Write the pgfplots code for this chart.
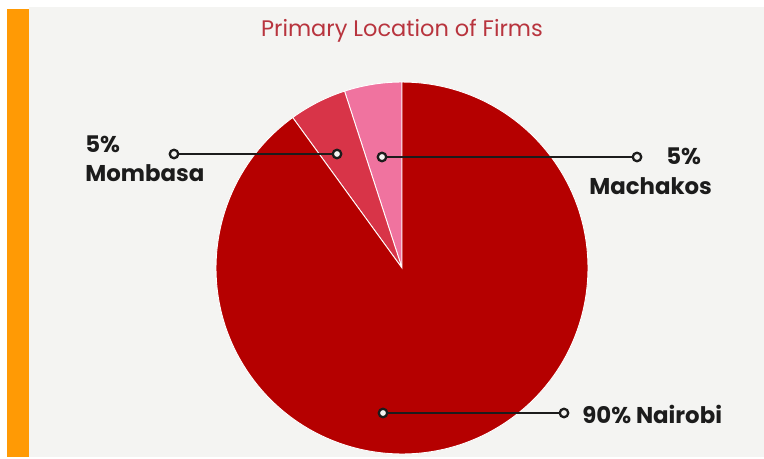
\documentclass[border=0pt]{standalone}
\usepackage{pgfplots}
\pgfplotsset{compat=1.18}
\usepackage{pgfplotstable}
\usepackage{fontspec}
\setmainfont{Poppins}
\definecolor{bgc}{HTML}{F4F4F2}
\definecolor{barc}{HTML}{FF9A05}
\definecolor{nairobi}{HTML}{B50000}
\definecolor{mombasa}{HTML}{D83448}
\definecolor{machakos}{HTML}{F0739F}
\definecolor{titlec}{HTML}{B8343E}
\definecolor{ink}{HTML}{1C1C1C}

% shares in percent, drawn counter-clockwise from the top
\pgfplotstableread{
share name
5  Machakos
5  Mombasa
90 Nairobi
}\pietable

\begin{document}
\begin{tikzpicture}
  \pgfplotstablegetelem{0}{share}\of\pietable \let\sA\pgfplotsretval
  \pgfplotstablegetelem{1}{share}\of\pietable \let\sB\pgfplotsretval
  \pgfplotstablegetelem{2}{share}\of\pietable \let\sC\pgfplotsretval
  \pgfmathsetmacro\aA{90+3.6*\sA}
  \pgfmathsetmacro\aB{\aA+3.6*\sB}
  \pgfmathsetmacro\aC{\aB+3.6*\sC}
  \def\R{3.72cm}
  \tikzset{dot/.style={ink,line width=1.3pt,fill=bgc},
           lab/.style={ink,font=\fontsize{13}{15}\selectfont\bfseries,anchor=base west,inner sep=0pt}}
  \begin{axis}[
      name=ax,
      x=0.02cm, y=0.02cm, scale only axis,
      xmin=0, xmax=764, ymin=0, ymax=459,
      hide axis, clip=false,
    ]
    \fill[white] (axis cs:0,0) rectangle (axis cs:764,459);
    \fill[bgc] (axis cs:29,2) rectangle (axis cs:764,452);
    \fill[barc] (axis cs:7,2) rectangle (axis cs:29,450);

    % slices
    \fill[machakos,draw=white,line width=0.5pt] (axis cs:402,191) -- ++(90:\R)
      arc[start angle=90, end angle=\aA, radius=\R] -- cycle;
    \fill[mombasa,draw=white,line width=0.5pt] (axis cs:402,191) -- ++(\aA:\R)
      arc[start angle=\aA, end angle=\aB, radius=\R] -- cycle;
    \fill[nairobi,draw=white,line width=0.5pt] (axis cs:402,191) -- ++(\aB:\R)
      arc[start angle=\aB, end angle=\aC, radius=\R] -- cycle;

    % leaders
    \draw[ink,line width=1.7pt] (axis cs:174,305) -- (axis cs:337,305);
    \draw[ink,line width=1.7pt] (axis cs:382,302) -- (axis cs:637,302);
    \draw[ink,line width=1.7pt] (axis cs:383,46) -- (axis cs:564,46);
    \draw[dot] (axis cs:174,305) circle[radius=0.085cm];
    \draw[dot] (axis cs:337,305) circle[radius=0.085cm];
    \draw[dot] (axis cs:382,302) circle[radius=0.085cm];
    \draw[dot] (axis cs:637,302) circle[radius=0.085cm];
    \draw[dot] (axis cs:383,46) circle[radius=0.085cm];
    \draw[dot] (axis cs:564,46) circle[radius=0.085cm];

    % labels
    \node[titlec,font=\fontsize{12.8}{15}\selectfont,anchor=base,inner sep=0pt]
      at (axis cs:402,422.3) {Primary Location of Firms};
    \node[lab] at (axis cs:85,306) {5\%};
    \node[lab] at (axis cs:85,277.5) {Mombasa};
    \node[lab] at (axis cs:666,294) {5\%};
    \node[lab] at (axis cs:589,264) {Machakos};
    \node[lab] at (axis cs:582,35.7) {90\% Nairobi};
  \end{axis}
  \pgfresetboundingbox
  \path (ax.south west) rectangle (ax.north east);
\end{tikzpicture}
\end{document}
